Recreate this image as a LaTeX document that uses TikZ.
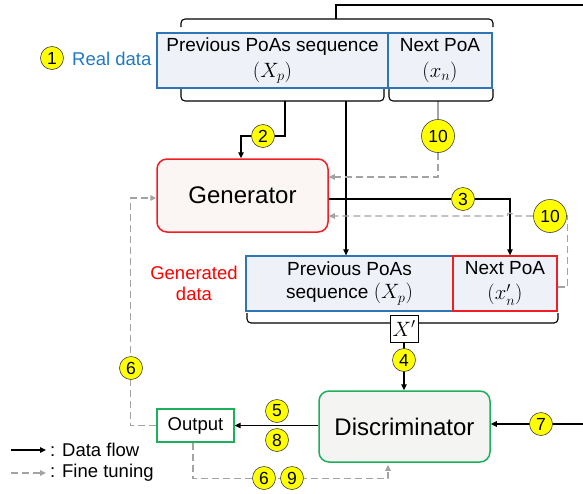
\documentclass[tikz,border=0pt]{standalone}
\usepackage{fontspec}
\setmainfont{Liberation Sans}
\usetikzlibrary{arrows.meta,backgrounds,calc}
\definecolor{realblue}{HTML}{1F78C8}
\definecolor{boxblue}{HTML}{2E75B6}
\definecolor{boxfill}{HTML}{EEF1F7}
\definecolor{genred}{HTML}{F01E23}
\definecolor{genfill}{HTML}{FBF6F4}
\definecolor{discgreen}{HTML}{1DAF5A}
\definecolor{discfill}{HTML}{F4F5F2}
\definecolor{tunegray}{HTML}{A3A3A3}
\definecolor{numyellow}{HTML}{FFFF00}
\newcommand\bigmath[1]{{\fontsize{22}{25}\selectfont$#1$}}
\begin{document}
\begin{tikzpicture}[x=1pt,y=-1pt,
  every node/.style={inner sep=0pt},
  datbox/.style={draw=boxblue, fill=boxfill, line width=1.3pt, minimum height=55pt, align=center, font=\fontsize{19}{26}\selectfont},
  num/.style={circle, draw=black!75, fill=numyellow, line width=0.6pt, minimum size=23pt, font=\fontsize{17.5}{17.5}\selectfont},
  bignum/.style={num, minimum size=33pt},
  flow/.style={draw=black, line width=1.1pt},
  tip/.style={-{Triangle[length=6pt,width=5.5pt]}},
  tune/.style={draw=tunegray, line width=1.3pt, dash pattern=on 7pt off 4pt},
  brace/.style={draw=black, line width=1.1pt, rounded corners=4pt},
  block/.style={rounded corners=10pt, line width=1.5pt, minimum width=171pt, font=\fontsize{24}{28}\selectfont},
  lbl/.style={font=\fontsize{18.5}{22}\selectfont}
]
\useasboundingbox (0,0) rectangle (583,493);

% braces
\draw[brace] (181,27) -- (181,19) -- (493,19) -- (493,27);
\draw[brace] (181,89) -- (181,101) -- (384,101) -- (384,89);
\draw[brace] (389,89) -- (389,101) -- (493,101) -- (493,89);
\draw[brace] (247,313) -- (247,323) -- (558,323) -- (558,313);
\coordinate (tb) at (336,19);
\coordinate (tr) at (583,5);
\coordinate (bl1) at (285,101);
\coordinate (bl2) at (346,101);
\coordinate (br) at (438,101);
\coordinate (r7) at (583,424);

% real data
\node[datbox, minimum width=231pt] (rp) at (272.5,60.5) {Previous PoAs sequence\\\bigmath{(X_p)}};
\node[datbox, minimum width=104pt] (rn) at (440,60.5) {Next PoA\\\bigmath{(x_n)}};
\node[num] (c1) at (52,58) {1};
\node[lbl, text=realblue, anchor=west] (rl) at (72,59) {Real data};

% generator
\node[block, draw=genred, fill=genfill, minimum height=73pt] (gen) at (242.5,195.5) {Generator};

% generated data
\node[datbox, minimum width=207pt, font=\fontsize{19}{23}\selectfont] (gp) at (349.5,283.5) {Previous PoAs\\sequence \bigmath{(X_p)}};
\node[datbox, draw=genred, minimum width=104pt, font=\fontsize{19}{25}\selectfont] (gn) at (505,283.5) {Next PoA\\\bigmath{(x'_n)}};
\node[lbl, text=red, align=center, font=\fontsize{18.5}{21}\selectfont] (gl) at (194,283) {Generated\\data};
\node[draw=black, fill=white, line width=1pt, minimum width=28pt, minimum height=27pt, font=\fontsize{21}{22}\selectfont] (xp) at (404,328.5) {$X'$};

% discriminator and output
\node[block, draw=discgreen, fill=discfill, minimum height=71pt] (disc) at (404.5,426.5) {Discriminator};
\node[draw=discgreen, fill=white, line width=1.3pt, minimum width=77pt, minimum height=33pt, lbl] (out) at (195.5,425.5) {Output};

% number circles
\node[num] (c2) at (263,136) {2};
\node[bignum] (c10a) at (438,136) {10};
\node[num] (c3) at (463,199) {3};
\node[bignum] (c10b) at (550,216) {10};
\node[num] (c4) at (404,360) {4};
\node[num] (c6a) at (131,368) {6};
\node[num] (c5) at (277,411) {5};
\node[num] (c8) at (277,440) {8};
\node[num] (c7) at (541,424) {7};
\node[num] (c6b) at (264,478) {6};
\node[num] (c9) at (292,478) {9};

% legend
\coordinate (lga) at (11,450);
\coordinate (lgb) at (46,450);
\coordinate (lgc) at (11,473);
\coordinate (lgd) at (46,473);
\node[lbl, anchor=west] (lt1) at (50,450) {: Data flow};
\node[lbl, anchor=west] (lt2) at (50,473) {: Fine tuning};

\begin{pgfonlayer}{background}
\draw[flow] (tb) -- (tb |- tr) -- (tr);
\draw[flow,tip] (bl1) |- (c2) -| ([xshift=-1.5pt]gen.north);
\draw[flow,tip] (bl2) -- (bl2 |- gp.north);
\draw[draw=tunegray, line width=1.1pt] (br) -- (c10a);
\draw[tune,tip] (c10a) |- ([yshift=18.5pt]gen.east);
\draw[flow,tip] (gen.east |- c3) -- (c3) -| ([xshift=5pt]gn.north);
\draw[tune] ([yshift=-3.5pt]gn.east) -- ++(10,0) |- (c10b);
\draw[tune,tip] (c10b) -- (513,216) arc[start angle=0,end angle=180,radius=3pt] -- (gen.east |- c10b);
\draw[flow,tip] (xp.south) -- (xp.south |- disc.north);
\draw[flow,tip] (disc.west |- out.east) -- (out.east);
\draw[flow,tip] (r7) -- (disc.east |- r7);
\draw[tune,tip] (out.west) -- ++(-26,0) |- ([yshift=-2.5pt]gen.west);
\draw[tune,tip,shorten >=2pt] ([xshift=-2.5pt]out.south) -- ++(0,36) -| ([xshift=-16.5pt]disc.south);
\draw[flow,tip] (lga) -- (lgb);
\draw[tune,tip] (lgc) -- (lgd);
\end{pgfonlayer}
\end{tikzpicture}
\end{document}
